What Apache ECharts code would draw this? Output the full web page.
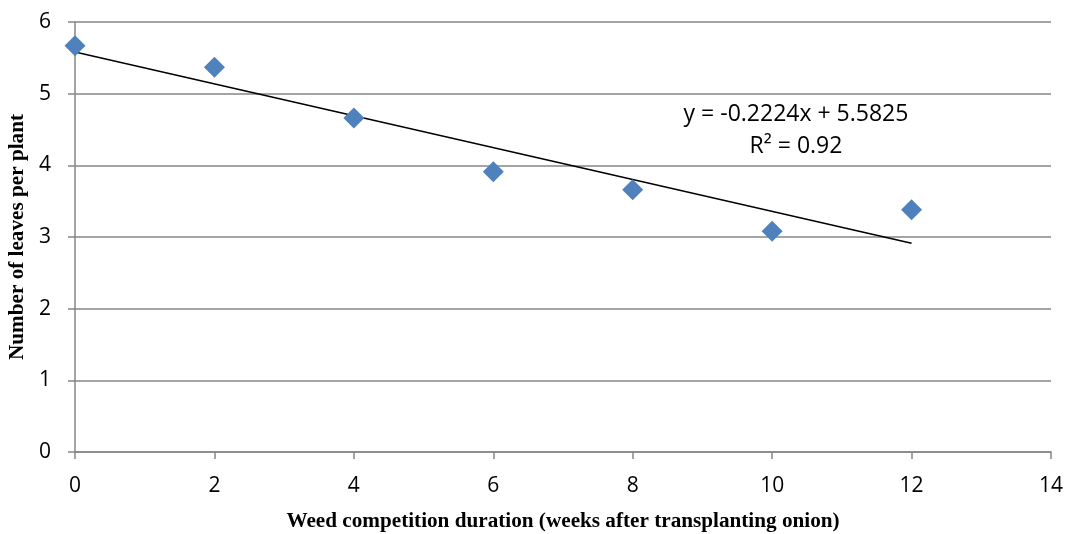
<!DOCTYPE html>
<html><head><meta charset="utf-8">
<script src="https://cdn.jsdelivr.net/npm/echarts@6/dist/echarts.min.js"></script>
<style>html,body{margin:0;padding:0;background:#fff}#c{width:1066px;height:534px}</style>
</head><body><div id="c"></div>
<script>
const weeks = [0, 2, 4, 6, 8, 10, 12];
const leaves = [5.67, 5.37, 4.66, 3.91, 3.66, 3.08, 3.38];
const trendSlope = -0.2224;
const trendIntercept = 5.5825;
const trendX = [0, 12];
const eqLines = ['y = -0.2224x + 5.5825', 'R² = 0.92'];
const xTitle = 'Weed competition duration (weeks after transplanting onion)';
const yTitle = 'Number of leaves per plant';

const chart = echarts.init(document.getElementById('c'));
const tickFont = {fontFamily: 'Open Sans, Liberation Sans, sans-serif', fontSize: 21, color: '#000'};
const titleFont = {fontFamily: 'Liberation Serif, serif', fontWeight: 'bold', fontSize: 21.2, color: '#000'};
chart.setOption({
  animation: false,
  grid: {left: 75, right: 15, top: 22, bottom: 82, containLabel: false, outerBoundsMode: 'none'},
  xAxis: {
    type: 'value', min: 0, max: 14, interval: 2,
    axisLine: {show: true, lineStyle: {color: '#868686', width: 1.5}},
    axisTick: {show: true, length: 7, lineStyle: {color: '#868686', width: 1.5}},
    axisLabel: Object.assign({margin: 24}, tickFont),
    splitLine: {show: false},
    name: xTitle, nameLocation: 'middle', nameGap: 59,
    nameTextStyle: titleFont
  },
  yAxis: {
    type: 'value', min: 0, max: 6, interval: 1,
    axisLine: {show: true, lineStyle: {color: '#868686', width: 1.5}},
    axisTick: {show: true, length: 7, lineStyle: {color: '#868686', width: 1.5}},
    axisLabel: Object.assign({margin: 24}, tickFont),
    splitLine: {show: true, lineStyle: {color: '#868686', width: 1.5}},
    name: yTitle, nameLocation: 'middle', nameGap: 47,
    nameTextStyle: titleFont
  },
  series: [
    {
      type: 'line', data: trendX.map(x => [x, trendIntercept + trendSlope * x]),
      symbol: 'none', lineStyle: {color: '#000', width: 1.5}, z: 3
    },
    {
      type: 'scatter', data: weeks.map((w, i) => [w, leaves[i]]),
      symbol: 'diamond', symbolSize: [21, 21],
      itemStyle: {color: '#4F81BD', opacity: 1}, z: 4
    }
  ],
  graphic: [
    {type: 'text', x: 796, y: 114, style: {text: eqLines[0], align: 'center', verticalAlign: 'middle', fontFamily: 'Open Sans, Liberation Sans, sans-serif', fontSize: 23, fill: '#000'}},
    {type: 'text', x: 796, y: 146, style: {text: eqLines[1], align: 'center', verticalAlign: 'middle', fontFamily: 'Open Sans, Liberation Sans, sans-serif', fontSize: 23, fill: '#000'}}
  ]
});
</script></body></html>
